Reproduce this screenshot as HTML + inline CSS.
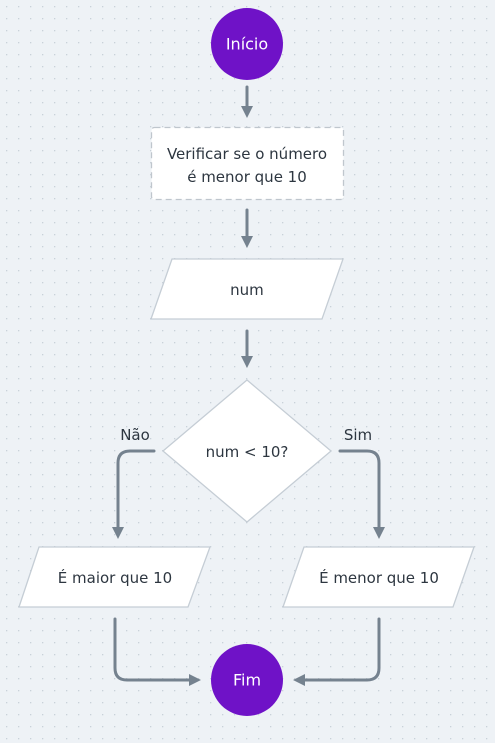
<!DOCTYPE html>
<html><head><meta charset="utf-8"><style>
html,body{margin:0;padding:0;width:495px;height:743px;overflow:hidden;background:#eef2f6;}
svg{display:block}
text{font-family:"DejaVu Sans","Liberation Sans",sans-serif;font-size:15px;fill:#2d3640;text-anchor:middle;dominant-baseline:central}
</style></head><body>
<svg width="495" height="743" viewBox="0 0 495 743" xmlns="http://www.w3.org/2000/svg">
<defs>
<pattern id="dots" x="6" y="6" width="12" height="12" patternUnits="userSpaceOnUse">
<rect x="0" y="0" width="1.3" height="1.3" fill="#c9d1d9"/>
</pattern>
<marker id="ah" viewBox="0 0 10 10" refX="5" refY="5" markerWidth="4" markerHeight="4" orient="auto">
<path d="M0,0 L10,5 L0,10 z" fill="#75828f"/>
</marker>
</defs>
<rect width="495" height="743" fill="#eef2f6"/>
<rect width="495" height="743" fill="url(#dots)"/>
<g stroke="#75828f" stroke-width="3" fill="none" stroke-linecap="round" marker-end="url(#ah)">
<path d="M247 87 V112"/>
<path d="M247 210 V242"/>
<path d="M247 331 V362"/>
<path d="M154 451 H130 Q118 451 118 463 V533"/>
<path d="M340 451 H367 Q379 451 379 463 V533"/>
<path d="M115 619 V668 Q115 680 127 680 H195"/>
<path d="M379 619 V668 Q379 680 367 680 H299"/>
</g>
<circle cx="247" cy="44" r="36" fill="#6f12c7"/>
<text x="247" y="44" style="fill:#fff;font-size:16px">Início</text>
<rect x="151.5" y="127.5" width="192" height="72" rx="3" fill="#fff" stroke="#bfc6cd" stroke-width="1.3" stroke-dasharray="6 4"/>
<text x="247" y="154">Verificar se o número</text>
<text x="247" y="177">é menor que 10</text>
<polygon points="172,259 343,259 322,319 151,319" fill="#fff" stroke="#c5cdd5" stroke-width="1.3"/>
<text x="247" y="290">num</text>
<polygon points="247,380 331,451 247,522 163,451" fill="#fff" stroke="#c5cdd5" stroke-width="1.3"/>
<text x="247" y="452">num &lt; 10?</text>
<text x="135" y="435">Não</text>
<text x="358" y="435">Sim</text>
<polygon points="39,547 210,547 188,607 19,607" fill="#fff" stroke="#c5cdd5" stroke-width="1.3"/>
<text x="115" y="578">É maior que 10</text>
<polygon points="304,547 474,547 453,607 283,607" fill="#fff" stroke="#c5cdd5" stroke-width="1.3"/>
<text x="379" y="578">É menor que 10</text>
<circle cx="247" cy="680" r="36" fill="#6f12c7"/>
<text x="247" y="680" style="fill:#fff;font-size:16px">Fim</text>
</svg>
</body></html>
